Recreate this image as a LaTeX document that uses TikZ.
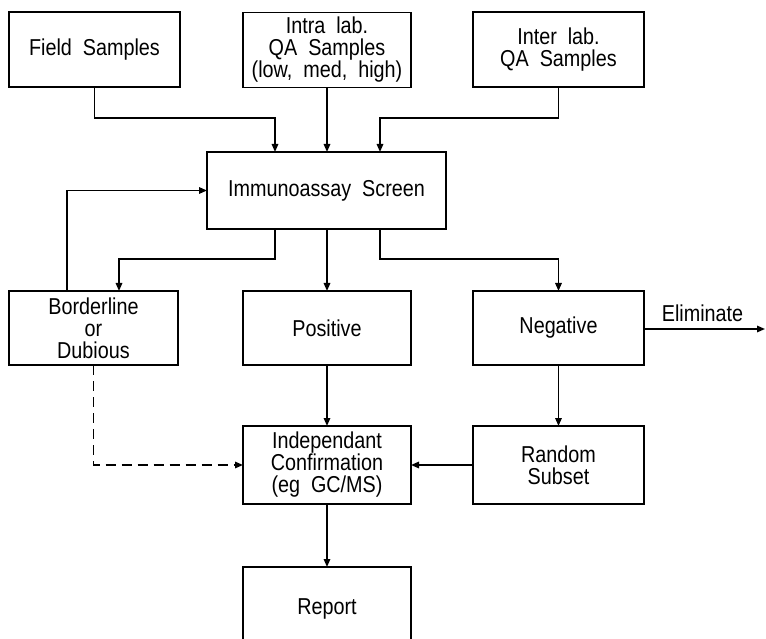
\documentclass[tikz,border=0pt]{standalone}
\usepackage{fontspec}
\setmainfont{Liberation Sans}[WordSpace=2, FakeStretch=0.86]
\usetikzlibrary{arrows.meta}

\tikzset{
  procbox/.style={draw, line width=1.6pt, inner sep=0pt, outer sep=0pt,
    align=center, font=\fontsize{23}{22}\selectfont},
  conn/.style={line width=1.5pt},
  arr/.style={conn, -{Triangle[length=8pt,width=6.5pt]}},
  dashconn/.style={arr, dash pattern=on 10pt off 6pt},
  lbl/.style={font=\fontsize{23}{22}\selectfont, inner sep=0pt}
}

\begin{document}
\begin{tikzpicture}[x=1pt, y=-1pt]
  \useasboundingbox (0,0) rectangle (766,639);

  % sample sources
  \node[procbox, minimum width=171pt, minimum height=75pt] (field) at (94.5,49.5) {Field Samples};
  \node[procbox, minimum width=168pt, minimum height=75pt] (intra) at (327,50) {Intra lab.\\QA Samples\\(low, med, high)};
  \node[procbox, minimum width=171pt, minimum height=75pt] (inter) at (558.5,49.5) {Inter lab.\\QA Samples};

  % screening
  \node[procbox, minimum width=239pt, minimum height=77pt] (immuno) at (326.5,190.5) {Immunoassay Screen};

  % screening outcomes
  \node[procbox, minimum width=169pt, minimum height=74pt] (border) at (93.5,328) {Borderline\\or\\Dubious};
  \node[procbox, minimum width=168pt, minimum height=74pt] (pos) at (327,328) {Positive};
  \node[procbox, minimum width=171pt, minimum height=74pt] (neg) at (558.5,328) {Negative};

  % confirmation
  \node[procbox, minimum width=168pt, minimum height=78pt] (indep) at (327,465) {Independant\\Confirmation\\(eg GC/MS)};
  \node[procbox, minimum width=171pt, minimum height=78pt] (random) at (558.5,465) {Random\\Subset};

  % report
  \node[procbox, minimum width=168pt, minimum height=88pt] (report) at (327,611) {};
  \node[lbl, anchor=base] (reporttext) at (327,614) {Report};

  % junction points
  \coordinate (jf) at (275,118);
  \coordinate (ji) at (380,118);
  \coordinate (jl) at (275,259);
  \coordinate (jl2) at (119,259);
  \coordinate (jr) at (380,259);
  \coordinate (fb) at (67,0);
  \coordinate (elim) at (765,329);

  % inputs to the screen
  \draw[arr] (field.south) |- (jf) -- (jf |- immuno.north);
  \draw[arr] (intra.south) -- (intra.south |- immuno.north);
  \draw[arr] (inter.south) |- (ji) -- (ji |- immuno.north);

  % screen outcomes
  \draw[arr] (jl |- immuno.south) -- (jl) -- (jl2) -- (jl2 |- border.north);
  \draw[arr] (immuno.south -| pos.north) -- (pos.north);
  \draw[arr] (jr |- immuno.south) -- (jr) -| (neg.north);

  % re-screen loop
  \draw[arr] (fb |- border.north) |- (immuno.west);

  % confirmation paths
  \draw[dashconn] (border.south) |- (indep.west);
  \draw[arr] (pos.south) -- (indep.north);
  \draw[arr] (neg.south) -- (random.north);
  \draw[arr] (random.west) -- (indep.east);
  \draw[arr] (indep.south) -- (report.north);

  % elimination
  \draw[arr] (neg.east |- elim) -- (elim);
  \node[lbl, anchor=base] (elimtext) at (702.5,321) {Eliminate};
\end{tikzpicture}
\end{document}
